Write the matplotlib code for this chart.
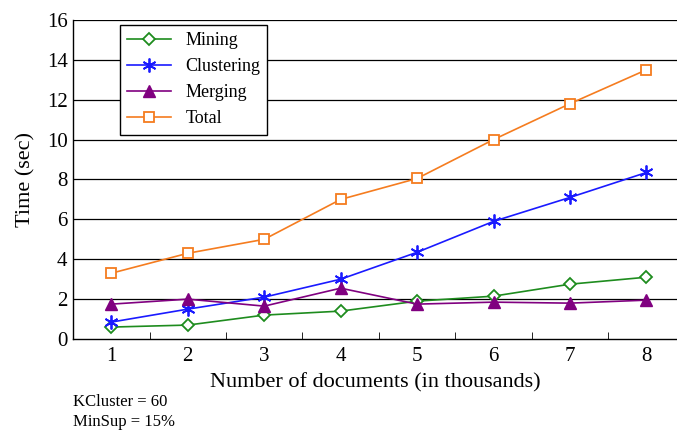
import matplotlib
matplotlib.use("Agg")
import matplotlib.pyplot as plt

# Data
docs = [1, 2, 3, 4, 5, 6, 7, 8]
mining = [0.6, 0.7, 1.2, 1.4, 1.9, 2.15, 2.75, 3.1]
clustering = [0.85, 1.5, 2.1, 3.0, 4.35, 5.9, 7.1, 8.35]
merging = [1.75, 2.0, 1.65, 2.55, 1.75, 1.85, 1.8, 1.95]
total = [3.3, 4.3, 5.0, 7.0, 8.05, 10.0, 11.8, 13.5]
yticks = [0, 2, 4, 6, 8, 10, 12, 14, 16]

plt.rcParams['font.family'] = ['Liberation Serif', 'DejaVu Serif']

my_dpi = 100
fig = plt.figure(figsize=(677/my_dpi, 433/my_dpi), dpi=my_dpi)
ax = fig.add_axes([0.108, 0.217, 0.892, 0.737])

# horizontal grid lines
for y in yticks[1:]:
    ax.axhline(y, color='black', linewidth=0.9, zorder=1)

ax.plot(docs, mining, color='#1e8c1e', marker='D', markersize=6.5,
        markerfacecolor='white', markeredgewidth=1.3, linewidth=1.2, label='Mining', zorder=3)
ax.plot(docs, clustering, color='#1a1aff', marker=(6, 2, 0), markersize=10,
        markeredgewidth=1.3, linewidth=1.2, label='Clustering', zorder=3)
ax.plot(docs, merging, color='#800080', marker='^', markersize=9,
        linewidth=1.2, label='Merging', zorder=3)
ax.plot(docs, total, color='#f57c1f', marker='s', markersize=7,
        markerfacecolor='white', markeredgewidth=1.3, linewidth=1.2, label='Total', zorder=3)

ax.set_xlim(0.5, 8.4)
ax.set_ylim(0, 16)
ax.set_xticks(docs)
ax.set_xticks([1.5, 2.5, 3.5, 4.5, 5.5, 6.5, 7.5], minor=True)
ax.tick_params(axis='x', which='major', length=0, labelsize=15, pad=6)
ax.tick_params(axis='x', which='minor', length=5, direction='in')
ax.set_yticks(yticks)
ax.tick_params(axis='y', length=0, labelsize=15, pad=4)

for s in ['top', 'right']:
    ax.spines[s].set_visible(False)
ax.spines['left'].set_linewidth(1.0)
ax.spines['bottom'].set_linewidth(1.0)

ax.set_xlabel('Number of documents (in thousands)', fontsize=16, labelpad=5)
ax.set_ylabel('Time (sec)', fontsize=16, labelpad=8)

leg = ax.legend(loc='upper left', bbox_to_anchor=(0.078, 0.984), borderaxespad=0,
                fontsize=13, fancybox=False, framealpha=1, edgecolor='black',
                handlelength=2.4, borderpad=0.4, labelspacing=0.5)
leg.get_frame().set_linewidth(1.0)

fig.text(0.108, 0.062, 'KCluster = 60', fontsize=12)
fig.text(0.108, 0.016, 'MinSup = 15%', fontsize=12)

plt.savefig('out.png', dpi=my_dpi)
